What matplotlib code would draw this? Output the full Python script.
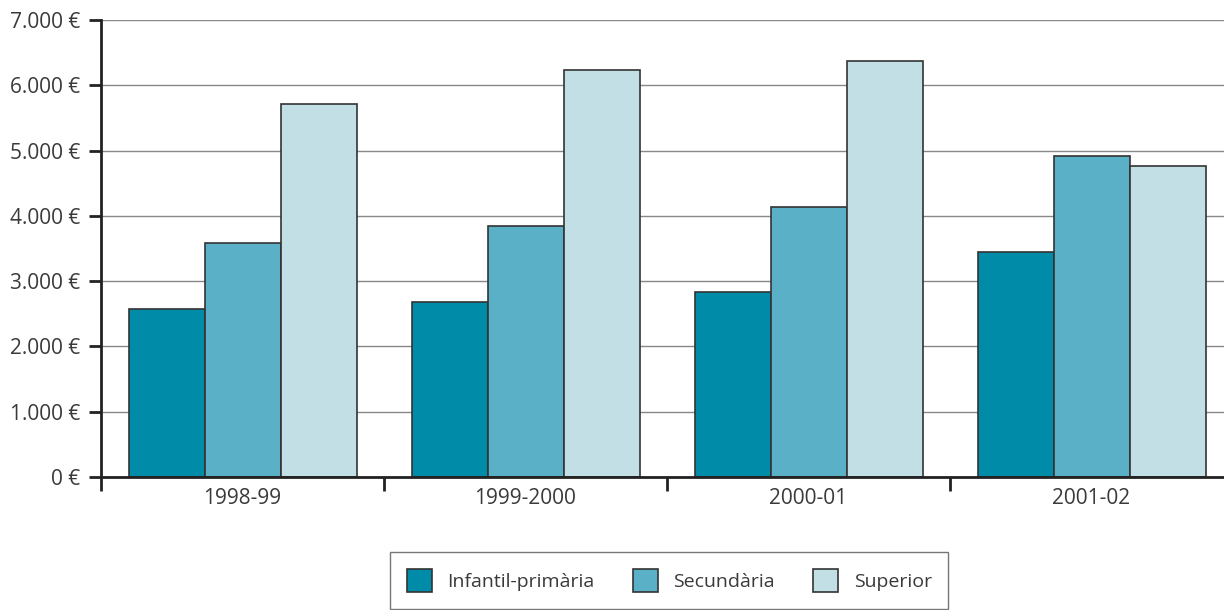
import numpy as np
import matplotlib
matplotlib.use("Agg")
import matplotlib.pyplot as plt
from matplotlib.ticker import FuncFormatter

plt.rcParams['font.family'] = ['Open Sans', 'DejaVu Sans']

years = ["1998-99", "1999-2000", "2000-01", "2001-02"]
series = ["Infantil-primària", "Secundària", "Superior"]
infantil = [2580, 2680, 2835, 3450]
secundaria = [3580, 3845, 4135, 4920]
superior = [5715, 6235, 6375, 4765]
colors = ["#008ba8", "#5ab0c6", "#c2dfe6"]

fig = plt.figure(figsize=(12.24, 6.10), dpi=100)
ax = fig.add_axes([101 / 1224, 1 - 477 / 610, 1 - 101 / 1224, 457 / 610])

x = np.arange(len(years))
w = 76 / 283
for k, (vals, name) in enumerate(zip([infantil, secundaria, superior], series)):
    ax.bar(x + (k - 1) * w, vals, w, color=colors[k], edgecolor="#333333",
           linewidth=1.2, label=name, zorder=3)

ax.set_ylim(0, 7000)
ax.set_xlim(-0.5, -0.5 + (1224 - 101) / 283)
ax.set_yticks(np.arange(0, 7001, 1000))
ax.yaxis.set_major_formatter(FuncFormatter(
    lambda v, p: "{:,.0f} €".format(v).replace(",", ".")))
ax.grid(axis="y", color="#888888", linewidth=1, zorder=0)

ax.set_xticks([-0.5, 0.5, 1.5, 2.5])
ax.set_xticklabels([])
ax.set_xticks(x, minor=True)
ax.set_xticklabels(years, minor=True)
ax.tick_params(axis="x", which="major", length=10, width=2, color="#222222", direction="out")
ax.tick_params(axis="x", which="minor", length=0, pad=8, labelsize=15, labelcolor="#3a3a3a")
ax.tick_params(axis="y", length=9, width=2, color="#222222", labelsize=15,
               labelcolor="#3a3a3a", pad=6)

for s in ["top", "right"]:
    ax.spines[s].set_visible(False)
for s in ["left", "bottom"]:
    ax.spines[s].set_linewidth(2)
    ax.spines[s].set_color("#222222")
    ax.spines[s].set_zorder(4)

leg = fig.legend(loc="upper left", bbox_to_anchor=(390 / 1224, 1 - 552 / 610),
                 ncol=3, fontsize=14, frameon=True, fancybox=False,
                 edgecolor="#555555", handlelength=1.3, handleheight=1.5,
                 columnspacing=1.95, handletextpad=0.8, borderpad=0.85,
                 borderaxespad=0)
leg.get_frame().set_linewidth(1)
for t in leg.get_texts():
    t.set_color("#3a3a3a")

fig.savefig("out.png", dpi=100)
